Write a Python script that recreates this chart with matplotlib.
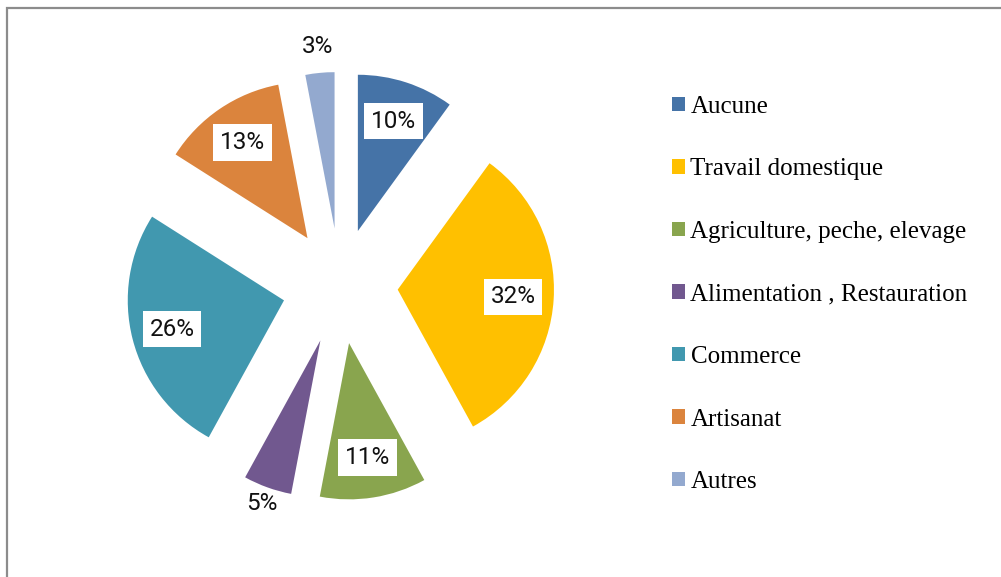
import numpy as np
import matplotlib
matplotlib.use("Agg")
import matplotlib.pyplot as plt
from matplotlib.patches import Rectangle

# donnees du graphique
categories = ["Aucune", "Travail domestique", "Agriculture, peche, elevage",
              "Alimentation , Restauration", "Commerce", "Artisanat", "Autres"]
values = [10, 32, 11, 5, 26, 13, 3]
colors = ["#4573A7", "#FFC000", "#89A54E", "#71588F", "#4198AF", "#DB843D", "#93A9CF"]
# etiquettes hors des parts : distance relative au rayon
outside = {"Alimentation , Restauration": 1.11, "Autres": 1.17}

fig = plt.figure(figsize=(10.01, 5.77), dpi=100)

# cadre gris (coupe a droite et en bas)
fig.patches.append(Rectangle((7 / 1001, -0.1), 1.2, 1 - 8 / 577 + 0.1,
                             transform=fig.transFigure, fill=False,
                             edgecolor="#8c8c8c", linewidth=1.6))

ax = fig.add_axes([90 / 1001, (577 - 536) / 577, 500 / 1001, 500 / 577])
wedges, texts, autotexts = ax.pie(
    values, colors=colors, startangle=90, counterclock=False,
    explode=[0.37] * len(values), radius=1, pctdistance=0.74,
    autopct=lambda p: f"{p:.0f}%",
    textprops=dict(family="Roboto", fontsize=17.5, color="#111111"))

for w, t, cat in zip(wedges, autotexts, categories):
    if cat in outside:
        d = outside[cat]
        mid = np.deg2rad((w.theta1 + w.theta2) / 2)
        cx, cy = w.center
        t.set_position((cx + d * w.r * np.cos(mid), cy + d * w.r * np.sin(mid)))
    else:
        t.set_bbox(dict(boxstyle="square,pad=0.28", facecolor="white", edgecolor="none"))

ax.set_xlim(-1.6, 1.6)
ax.set_ylim(-1.6, 1.6)
ax.set_aspect("equal")
ax.axis("off")

fig.legend(wedges, categories, loc="upper left",
           bbox_to_anchor=(672 / 1001, 1 - 96 / 577),
           frameon=False, borderpad=0, borderaxespad=0,
           handlelength=0.52, handleheight=0.52, handletextpad=0.22,
           labelspacing=1.62,
           prop=dict(family="Liberation Serif", size=18))

fig.savefig("out.png", dpi=100)
